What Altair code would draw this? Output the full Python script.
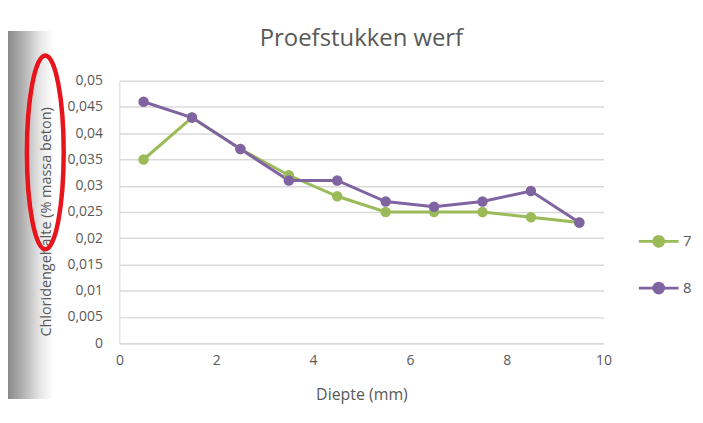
import altair as alt
import pandas as pd

diepte = [0.5, 1.5, 2.5, 3.5, 4.5, 5.5, 6.5, 7.5, 8.5, 9.5]
serie_7 = [0.035, 0.043, 0.037, 0.032, 0.028, 0.025, 0.025, 0.025, 0.024, 0.023]
serie_8 = [0.046, 0.043, 0.037, 0.031, 0.031, 0.027, 0.026, 0.027, 0.029, 0.023]
series = ["7", "8"]
colors = ["#9bbb59", "#8064a2"]
y_ticks = [0, 0.005, 0.01, 0.015, 0.02, 0.025, 0.03, 0.035, 0.04, 0.045, 0.05]
x_ticks = [0, 2, 4, 6, 8, 10]
y_title = "Chloridengehalte (% massa beton)"

rows = []
for s, vals in zip(series, [serie_7, serie_8]):
    for d, v in zip(diepte, vals):
        rows.append({"diepte": d, "chloride": v, "serie": s})
df = pd.DataFrame(rows)

TXT = "#595959"
FONT = "Open Sans"
W, H = 487, 264

scale = alt.Scale(domain=series, range=colors)
xenc = alt.X("diepte:Q", scale=alt.Scale(domain=[0, 10], nice=False),
             axis=alt.Axis(values=x_ticks, title="Diepte (mm)", grid=False,
                           ticks=False, domain=True, domainColor="#d9d9d9",
                           domainWidth=1.5, labelPadding=10, titleY=52,
                           labelFlush=False, titleFontSize=16,
                           titleBaseline="middle"))
yenc = alt.Y("chloride:Q", scale=alt.Scale(domain=[0, 0.05], nice=False),
             axis=alt.Axis(values=y_ticks, title=None, labelFlush=False,
                           labelExpr="replace(format(datum.value, '~g'), '.', ',')",
                           grid=True, gridColor="#d9d9d9", gridWidth=1.5,
                           ticks=False, domain=True, domainColor="#d9d9d9",
                           labelPadding=17))

legend_sym = "M-1,0 H1 M-0.25,0 A0.25,0.25 0 1,1 0.25,0 A0.25,0.25 0 1,1 -0.25,0 Z"
leg = alt.Legend(title=None, orient="none", legendX=521, legendY=140,
                 symbolType=legend_sym, symbolSize=1600, symbolStrokeWidth=2.8,
                 labelFontSize=15, labelColor=TXT, labelFont=FONT, rowPadding=14,
                 labelOffset=3)

base = alt.Chart(df).encode(x=xenc, y=yenc)
lines = base.mark_line(strokeWidth=3).encode(
    detail="serie:N",
    stroke=alt.Stroke("serie:N", scale=scale, legend=leg),
    order="diepte:Q",
)
points = base.mark_point(filled=True, size=110, opacity=1).encode(
    fill=alt.Fill("serie:N", scale=scale, legend=leg),
)

one = alt.Data(values=[{"a": 1}])
grad = alt.Gradient(gradient="linear", x1=0, x2=1, y1=0, y2=0,
                    stops=[alt.GradientStop(offset=0, color="#8a8a8a"),
                           alt.GradientStop(offset=0.35, color="#b5b5b5"),
                           alt.GradientStop(offset=0.7, color="#e6e6e6"),
                           alt.GradientStop(offset=1, color="#ffffff")])
bg = alt.Chart(one).mark_rect(fill=grad, clip=False).encode(
    x=alt.value(-112), x2=alt.value(-66), y=alt.value(-50), y2=alt.value(320))

ytitle = alt.Chart(one).mark_text(
    text=y_title, angle=270, font=FONT, fontSize=14.5, color=TXT,
    align="center", baseline="middle", clip=False).encode(
    x=alt.value(-73), y=alt.value(142))

ellipse_path = "M-0.19,0 A0.19,1 0 1,1 0.19,0 A0.19,1 0 1,1 -0.19,0 Z"
ell = alt.Chart(one).mark_point(shape=ellipse_path, filled=False, stroke="#e8141b",
                                strokeWidth=4.5, size=38000, clip=False, opacity=1).encode(
    x=alt.value(-74.5), y=alt.value(72))

chart = alt.layer(bg, ytitle, lines, points, ell).properties(
    width=W, height=H,
    title=alt.TitleParams("Proefstukken werf", fontSize=24, font=FONT, color=TXT,
                          fontWeight="normal", anchor="middle", offset=0, dy=39,
                          frame="group", baseline="alphabetic"),
    autosize=alt.AutoSizeParams(type="none"),
    padding={"left": 112, "top": 72, "right": 92, "bottom": 70},
).configure(background="white").configure_view(stroke=None).configure_axis(
    labelFont=FONT, labelFontSize=14, labelColor=TXT,
    titleFont=FONT, titleFontSize=15, titleColor=TXT, titleFontWeight="normal",
)

chart.save("out.html", embed_options={"renderer": "svg", "actions": False})
